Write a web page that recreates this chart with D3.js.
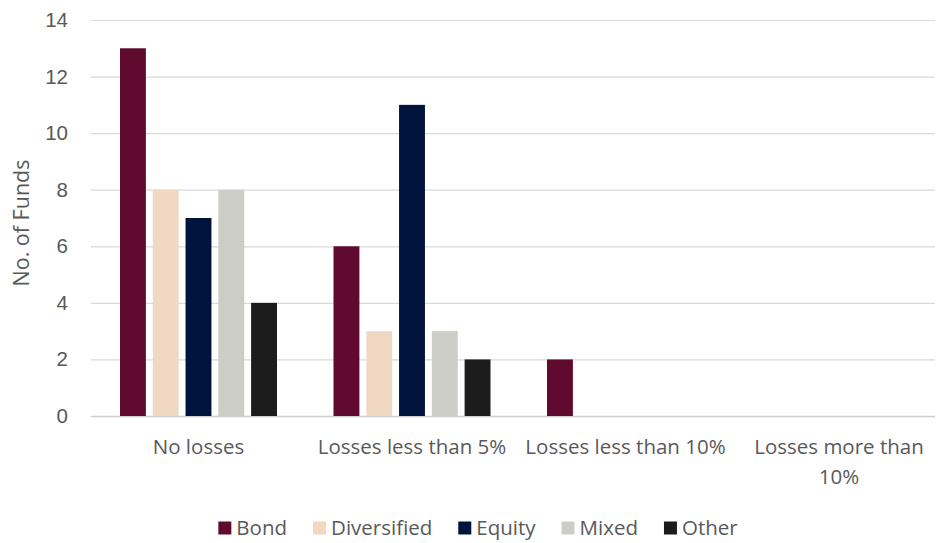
<!DOCTYPE html>
<html>
<head>
<meta charset="utf-8">
<script src="https://cdn.jsdelivr.net/npm/d3@7"></script>
<style>
  body { margin: 0; background: #fff; }
  svg { display: block; font-family: "Open Sans", Lato, sans-serif; }
</style>
</head>
<body>
<div class="chart"></div>
<script>
const categories = ["No losses", "Losses less than 5%", "Losses less than 10%", "Losses more than 10%"];
const series = ["Bond", "Diversified", "Equity", "Mixed", "Other"];
const bond = [13, 6, 2, 0];
const diversified = [8, 3, 0, 0];
const equity = [7, 11, 0, 0];
const mixed = [8, 3, 0, 0];
const other = [4, 2, 0, 0];
const yTicks = [0, 2, 4, 6, 8, 10, 12, 14];
const colors = ["#5f0a2e", "#efd9c3", "#00133c", "#cdcdc8", "#1c1c1c"];

const values = [bond, diversified, equity, mixed, other];
const rows = categories.map((c, i) => ({
    cat: c,
    vals: series.map((s, j) => ({key: s, value: values[j][i]}))
}));

const width = 936, height = 543;
const margin = {top: 20, right: 1, bottom: 127, left: 91};
const fs = 20.5;

const svg = d3.select('.chart')
    .append('svg')
    .attr("width", width)
    .attr("height", height)
    .attr("viewBox", [0, 0, width, height]);

const xScale = d3.scaleBand()
    .domain(categories)
    .range([88, 942]);
const inner = d3.scaleBand()
    .domain(series)
    .range([32, 189])
    .paddingInner(0.21);
const groupMid = (inner.range()[0] + inner.range()[1]) / 2;
const yScale = d3.scaleLinear()
    .domain([0, 14])
    .range([height - margin.bottom, margin.top]);

const textColor = "#595959";

// grid + y labels
const yAxis = g => g
    .attr("transform", `translate(${margin.left},0)`)
    .call(d3.axisLeft(yScale).tickValues(yTicks).tickSize(-(width - margin.left - margin.right)).tickPadding(23))
    .call(g => g.select(".domain").remove())
    .call(g => g.selectAll(".tick line")
        .attr("stroke", d => d === 0 ? "#cfcfcf" : "#d9d9d9")
        .attr("stroke-width", d => d === 0 ? 1.5 : 1.2))
    .call(g => g.selectAll(".tick text")
        .attr("fill", textColor)
        .attr("font-size", fs));
svg.append("g").call(yAxis);

svg.append("text")
    .attr("transform", `translate(23,223) rotate(-90)`)
    .attr("text-anchor", "middle")
    .attr("dominant-baseline", "middle")
    .attr("fill", textColor)
    .attr("font-size", 21.5)
    .text("No. of Funds");

// bars
svg.append("g")
  .selectAll("g")
  .data(rows)
  .join("g")
    .attr("transform", d => `translate(${xScale(d.cat)},0)`)
  .selectAll("rect")
  .data(d => d.vals.filter(v => v.value > 0))
  .join("rect")
    .attr("x", d => inner(d.key))
    .attr("width", inner.bandwidth())
    .attr("y", d => yScale(d.value))
    .attr("height", d => yScale(0) - yScale(d.value))
    .attr("fill", d => colors[series.indexOf(d.key)]);

// category labels (wrapped)
const catLines = {
    "No losses": ["No losses"],
    "Losses less than 5%": ["Losses less than 5%"],
    "Losses less than 10%": ["Losses less than 10%"],
    "Losses more than 10%": ["Losses more than", "10%"]
};
const xl = svg.append("g")
  .selectAll("text")
  .data(categories)
  .join("text")
    .attr("x", d => xScale(d) + groupMid)
    .attr("y", 454)
    .attr("text-anchor", "middle")
    .attr("fill", textColor)
    .attr("font-size", fs);
xl.selectAll("tspan")
  .data(d => catLines[d])
  .join("tspan")
    .attr("x", function() { return this.parentNode.getAttribute("x"); })
    .attr("dy", (d, i) => i === 0 ? 0 : 30)
    .text(d => d);

// legend
const gap = 26;
const legend = svg.append("g");
let lx = 0;
series.forEach((s, i) => {
    const item = legend.append("g").attr("transform", `translate(${lx},0)`);
    item.append("rect")
        .attr("x", 0).attr("y", -6.5)
        .attr("width", 13).attr("height", 13)
        .attr("fill", colors[i]);
    const t = item.append("text")
        .attr("x", 18)
        .attr("dy", "0.35em")
        .attr("fill", textColor)
        .attr("font-size", fs)
        .text(s);
    lx += 18 + t.node().getComputedTextLength() + gap;
});
const legendW = lx - gap;
legend.attr("transform", `translate(${478 - legendW / 2},528)`);
</script>
</body>
</html>
